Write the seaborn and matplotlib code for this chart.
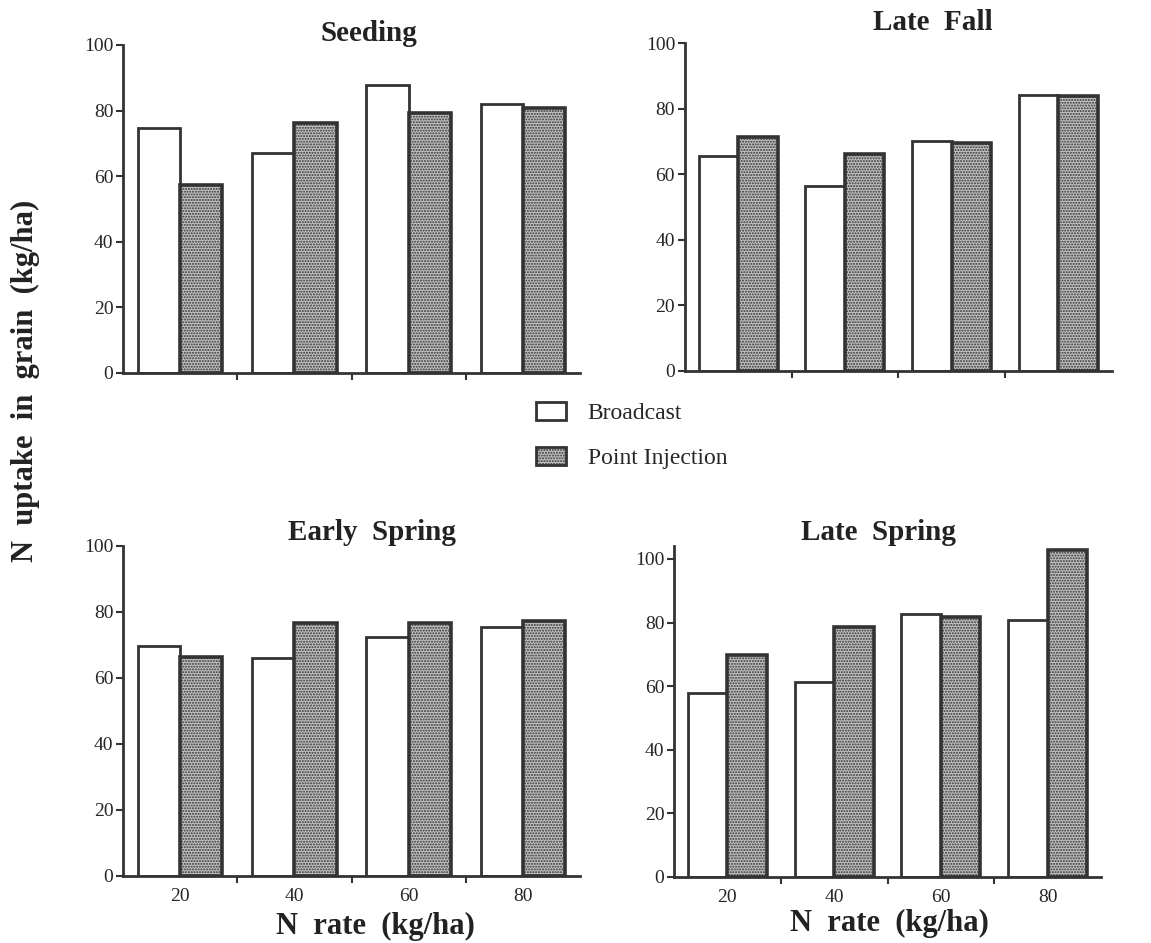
import numpy as np
import matplotlib.pyplot as plt
import matplotlib.patches as mpatches
import seaborn as sns
import pandas as pd

sns.set_style("ticks")
plt.rcParams['font.family'] = ['Liberation Serif', 'DejaVu Serif']
plt.rcParams['hatch.color'] = '#333333'
plt.rcParams['hatch.linewidth'] = 1.0

n_rates = ["20", "40", "60", "80"]
methods = ["Broadcast", "Point Injection"]

seeding_bc = [74.8, 67.2, 87.7, 82.0]
seeding_pi = [57.4, 76.1, 79.4, 80.7]
latefall_bc = [65.4, 56.4, 70.2, 84.2]
latefall_pi = [71.2, 66.2, 69.5, 83.7]
earlyspring_bc = [69.7, 66.1, 72.3, 75.6]
earlyspring_pi = [66.4, 76.7, 76.7, 77.4]
latespring_bc = [58.0, 61.4, 82.8, 80.8]
latespring_pi = [69.8, 78.7, 81.8, 102.8]

panels = [
    ("Seeding", seeding_bc, seeding_pi),
    ("Late  Fall", latefall_bc, latefall_pi),
    ("Early  Spring", earlyspring_bc, earlyspring_pi),
    ("Late  Spring", latespring_bc, latespring_pi),
]

# axes boxes in figure fraction
boxes = [
    [0.1069, 0.6045, 0.397, 0.3478],
    [0.595, 0.6066, 0.371, 0.3478],
    [0.1069, 0.0711, 0.397, 0.3499],
    [0.5856, 0.0700, 0.371, 0.3514],
]
ymax = [100, 100, 100, 104.2]
title_pos = [(0.537, 1.034), (0.58, 1.061), (0.545, 1.042), (0.478, 1.041)]
xlabel_pos = {2: (0.3258, 0.018), 3: (0.7724, 0.021)}

edge = '#333333'
grey = '#c2c2c2'
pal = {"Broadcast": "white", "Point Injection": grey}

fig = plt.figure(figsize=(11.51, 9.43), dpi=100)

for i, (title, bc, pi) in enumerate(panels):
    ax = fig.add_axes(boxes[i])
    df = pd.DataFrame({
        "rate": n_rates * 2,
        "uptake": bc + pi,
        "method": [methods[0]] * 4 + [methods[1]] * 4,
    })
    sns.barplot(data=df, x="rate", y="uptake", hue="method", palette=pal,
                width=0.74, ax=ax, legend=False, saturation=1)
    for k, cont in enumerate(ax.containers):
        for p in cont:
            p.set_edgecolor(edge)
            if k == 1:
                p.set_hatch('......')
                p.set_linewidth(2.6)
            else:
                p.set_linewidth(2.0)
    ax.set_xlim(-0.5, 3.5)
    ax.set_ylim(0, ymax[i])
    ax.set_yticks([0, 20, 40, 60, 80, 100])
    ax.set_xticks([0.5, 1.5, 2.5], minor=True)
    ax.tick_params(axis='x', which='major', length=0, labelsize=14, pad=9)
    ax.tick_params(axis='x', which='minor', length=5, width=1.5, color=edge)
    ax.tick_params(axis='y', length=5, width=1.5, color=edge, labelsize=14, pad=2)
    for s in ['top', 'right']:
        ax.spines[s].set_visible(False)
    for s in ['left', 'bottom']:
        ax.spines[s].set_linewidth(2.0)
        ax.spines[s].set_color(edge)
    ax.set_ylabel("")
    ax.set_xlabel("")
    ax.text(title_pos[i][0], title_pos[i][1], title, transform=ax.transAxes,
            ha='center', va='center', fontsize=21, fontweight='bold',
            color='#222222')
    if i < 2:
        ax.set_xticklabels([])
    else:
        fig.text(xlabel_pos[i][0], xlabel_pos[i][1], "N  rate  (kg/ha)",
                 ha='center', va='center', fontsize=22, fontweight='bold',
                 color='#222222')

fig.text(0.022, 0.596, "N  uptake  in  grain  (kg/ha)", rotation=90,
         fontsize=22, fontweight='bold', ha='center', va='center',
         color='#222222')

handles = [
    mpatches.Patch(facecolor='white', edgecolor=edge, linewidth=2.0),
    mpatches.Patch(facecolor=grey, edgecolor=edge, linewidth=2.0, hatch='......'),
]
fig.legend(handles, methods, loc='center', bbox_to_anchor=(0.5485, 0.538),
           frameon=False, fontsize=17, labelspacing=0.95, handlelength=1.27,
           handleheight=0.8, handletextpad=0.93)

fig.savefig("out.png", dpi=100)
